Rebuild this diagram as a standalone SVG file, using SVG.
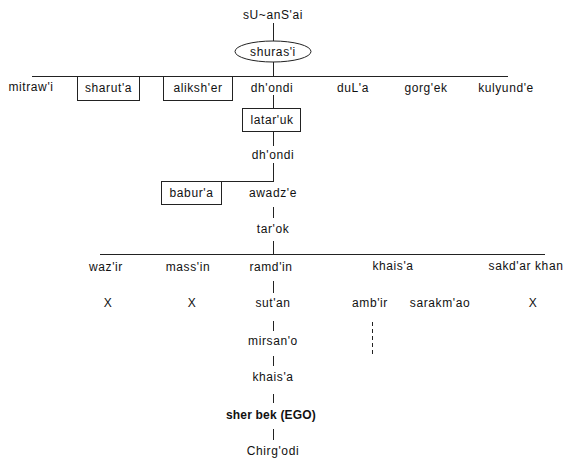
<svg xmlns="http://www.w3.org/2000/svg" width="567" height="460" viewBox="0 0 567 460">
<style>
text{font-family:"Liberation Sans",Arial,sans-serif;font-size:12px;letter-spacing:0.6px;fill:#111;text-anchor:middle}
.b{font-weight:bold;letter-spacing:0.2px}
.box{fill:none;stroke:#222;stroke-width:1}
.ln{stroke:#222;stroke-width:1;fill:none}
.dash{stroke:#222;stroke-width:1;stroke-dasharray:4 3}
</style>
<rect width="567" height="460" fill="#fff"/>
<g id="connectors">
<line class="ln" x1="273.5" y1="23" x2="273.5" y2="41"/>
<line class="ln" x1="273.5" y1="62" x2="273.5" y2="76"/>
<line class="ln" x1="32" y1="76.5" x2="508" y2="76.5"/>
<line class="ln" x1="273.5" y1="95" x2="273.5" y2="108"/>
<line class="ln" x1="273.5" y1="131" x2="273.5" y2="146"/>
<line class="ln" x1="273.5" y1="163" x2="273.5" y2="181"/>
<line class="ln" x1="162" y1="181.5" x2="274" y2="181.5"/>
<line class="ln" x1="273.5" y1="207" x2="273.5" y2="218"/>
<line class="ln" x1="273.5" y1="241" x2="273.5" y2="254"/>
<line class="ln" x1="100" y1="254.5" x2="545" y2="254.5"/>
<line class="ln" x1="273.5" y1="281" x2="273.5" y2="293"/>
<line class="ln" x1="273.5" y1="321" x2="273.5" y2="331"/>
<line class="ln" x1="273.5" y1="356" x2="273.5" y2="366"/>
<line class="ln" x1="273.5" y1="394" x2="273.5" y2="403"/>
<line class="ln" x1="273.5" y1="429" x2="273.5" y2="440"/>
<line class="dash" x1="372.5" y1="322" x2="372.5" y2="355"/>
</g>
<g id="n-suansai"><text x="273" y="18.5">sU~anS'ai</text></g>
<g id="n-shurasi"><ellipse class="box" cx="273" cy="51.5" rx="38" ry="10.5"/><text x="273" y="55.5">shuras'i</text></g>
<g id="n-mitrawi"><text x="31" y="90.5">mitraw'i</text></g>
<g id="n-sharuta"><rect class="box" x="77.5" y="76.5" width="62" height="24"/><text x="108.5" y="92">sharut'a</text></g>
<g id="n-aliksher"><rect class="box" x="163.5" y="76.5" width="69" height="24"/><text x="198" y="92">aliksh'er</text></g>
<g id="n-dhondi1"><text x="272" y="92">dh'ondi</text></g>
<g id="n-dula"><text x="353" y="92">duL'a</text></g>
<g id="n-gorgek"><text x="426" y="92">gorg'ek</text></g>
<g id="n-kulyunde"><text x="506" y="92">kulyund'e</text></g>
<g id="n-lataruk"><rect class="box" x="242.5" y="108.5" width="58" height="23"/><text x="272" y="123.5">latar'uk</text></g>
<g id="n-dhondi2"><text x="273" y="159">dh'ondi</text></g>
<g id="n-babura"><rect class="box" x="161.5" y="181.5" width="60" height="23"/><text x="191.5" y="197">babur'a</text></g>
<g id="n-awadze"><text x="273" y="197">awadz'e</text></g>
<g id="n-tarok"><text x="273" y="233">tar'ok</text></g>
<g id="n-wazir"><text x="106" y="270.5">waz'ir</text></g>
<g id="n-massin"><text x="188" y="270.5">mass'in</text></g>
<g id="n-ramdin"><text x="271" y="270.5">ramd'in</text></g>
<g id="n-khaisa1"><text x="393" y="270">khais'a</text></g>
<g id="n-sakdarkhan"><text x="526" y="270">sakd'ar khan</text></g>
<g id="n-x1"><text x="108" y="307">X</text></g>
<g id="n-x2"><text x="192" y="307">X</text></g>
<g id="n-sutan"><text x="273" y="307">sut'an</text></g>
<g id="n-ambir"><text x="370" y="307">amb'ir</text></g>
<g id="n-sarakmao"><text x="440" y="307">sarakm'ao</text></g>
<g id="n-x3"><text x="533" y="307">X</text></g>
<g id="n-mirsano"><text x="273" y="345">mirsan'o</text></g>
<g id="n-khaisa2"><text x="273" y="381">khais'a</text></g>
<g id="n-sherbek"><text class="b" x="271" y="418.5">sher bek (EGO)</text></g>
<g id="n-chirgodi"><text x="273" y="455">Chirg'odi</text></g>
</svg>
